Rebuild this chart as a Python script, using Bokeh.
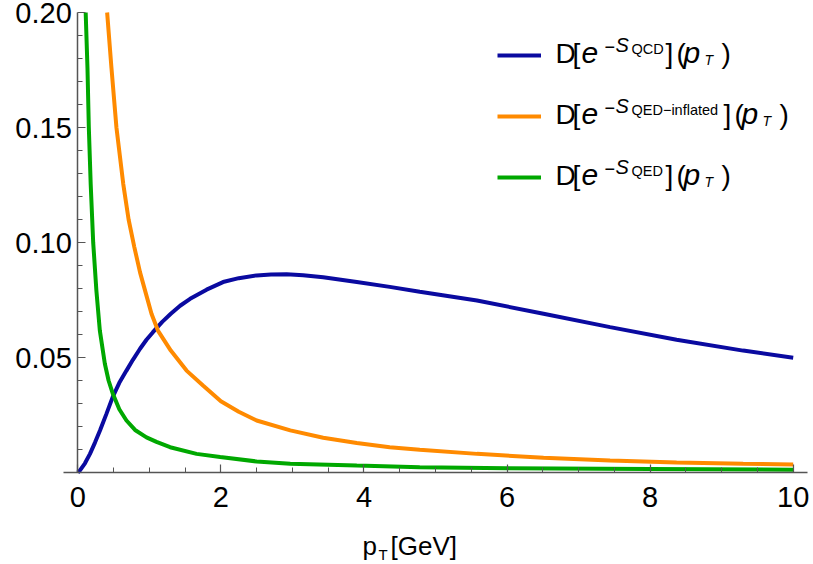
import numpy as np
from bokeh.plotting import figure
from bokeh.models import FixedTicker, NumeralTickFormatter, Label, Legend, LegendItem
from bokeh.embed import file_html
from bokeh.resources import INLINE

# ---- data ----
x_qcd = [0.0, 0.03, 0.1, 0.17, 0.24, 0.31, 0.4, 0.49, 0.58, 0.68, 0.77, 0.87, 0.96,
         1.05, 1.18, 1.3, 1.43, 1.57, 1.8, 2.03, 2.25, 2.5, 2.7, 2.92, 3.15, 3.43,
         3.9, 4.36, 4.78, 5.58, 6.51, 7.44, 8.37, 9.3, 10.0]
y_qcd = [0.0, 0.0009, 0.004, 0.0081, 0.013, 0.0183, 0.0255, 0.033, 0.039, 0.0443,
         0.049, 0.0538, 0.0577, 0.061, 0.0655, 0.069, 0.0725, 0.0755, 0.0795, 0.0828,
         0.0845, 0.0857, 0.0861, 0.0862, 0.0858, 0.0849, 0.0828, 0.0807, 0.0786,
         0.0748, 0.069, 0.0632, 0.0577, 0.053, 0.0499]

x_infl = [0.41, 0.47, 0.54, 0.635, 0.71, 0.79, 0.87, 0.95, 1.03, 1.12, 1.3, 1.52,
          1.75, 2.0, 2.25, 2.5, 2.97, 3.43, 3.9, 4.36, 4.78, 5.58, 6.51, 7.44, 8.37,
          9.3, 10.0]
y_infl = [0.2, 0.176, 0.150, 0.1255, 0.110, 0.098, 0.087, 0.078, 0.069, 0.0617,
          0.053, 0.0443, 0.0378, 0.031, 0.0264, 0.0226, 0.0183, 0.0151, 0.0128,
          0.011, 0.0099, 0.0081, 0.0064, 0.0052, 0.0043, 0.0038, 0.0035]

x_qed = [0.11, 0.135, 0.154, 0.18, 0.215, 0.26, 0.308, 0.378, 0.43, 0.49, 0.58, 0.68,
         0.8, 0.96, 1.1, 1.29, 1.66, 1.99, 2.5, 2.97, 3.9, 4.78, 6.0, 8.0, 10.0]
y_qed = [0.2, 0.176, 0.15, 0.1255, 0.100, 0.079, 0.0617, 0.0473, 0.040, 0.0342,
         0.0275, 0.0226, 0.0185, 0.0153, 0.0133, 0.011, 0.0081, 0.0067, 0.0048,
         0.0038, 0.003, 0.0023, 0.0019, 0.0015, 0.0012]

x_ticks = [0, 2, 4, 6, 8, 10]
x_minor = [0.5, 1, 1.5, 2.5, 3, 3.5, 4.5, 5, 5.5, 6.5, 7, 7.5, 8.5, 9, 9.5]
y_ticks = [0.05, 0.10, 0.15, 0.20]
y_minor = [0.01, 0.02, 0.03, 0.04, 0.06, 0.07, 0.08, 0.09, 0.11, 0.12, 0.13, 0.14,
           0.16, 0.17, 0.18, 0.19]

X_AX = (-0.2, 10.2)   # extent of the drawn x axis
Y_AX = (0.0, 0.2)     # extent of the drawn y axis

# ---- layout (pixels) ----
W, H = 813, 564
AL, AR, AT, AB = 63, 807, 12, 472   # where the axes' extents sit on the canvas
SX = (AR - AL) / (X_AX[1] - X_AX[0])
SY = (AB - AT) / (Y_AX[1] - Y_AX[0])
XR = (X_AX[0] - AL / SX, X_AX[1] + (W - AR) / SX)
YR = (Y_AX[0] - (H - AB) / SY, Y_AX[1] + AT / SY)

def dx(px):
    return XR[0] + px / SX

def dy(py):
    return YR[1] - py / SY

FONT = "Liberation Sans"
BLUE, ORANGE, GREEN = "#0a0aa0", "#ff8a00", "#00a800"
AXC = "#555555"

p = figure(width=W, height=H, x_range=XR, y_range=YR, output_backend="svg",
           toolbar_location=None, min_border=0)
p.outline_line_color = None
p.grid.visible = False
p.background_fill_color = "white"
p.border_fill_color = "white"

r1 = p.line(x_qcd, y_qcd, line_color=BLUE, line_width=4)
r2 = p.line(x_infl, y_infl, line_color=ORANGE, line_width=4)
r3 = p.line(x_qed, y_qed, line_color=GREEN, line_width=4)

for ax in (p.xaxis[0], p.yaxis[0]):
    ax.axis_line_color = AXC
    ax.axis_line_width = 1.5
    ax.major_tick_line_color = AXC
    ax.minor_tick_line_color = AXC
    ax.major_tick_line_width = 1.2
    ax.minor_tick_line_width = 1.0
    ax.major_tick_in = 8
    ax.major_tick_out = 0
    ax.minor_tick_in = 5
    ax.minor_tick_out = 0
    ax.major_label_text_font = FONT
    ax.major_label_text_font_size = "29px"
    ax.major_label_text_color = "black"

p.xaxis.ticker = FixedTicker(ticks=x_ticks, minor_ticks=x_minor)
p.xaxis.fixed_location = 0
p.xaxis.bounds = X_AX
p.xaxis.major_label_standoff = 14
p.yaxis.ticker = FixedTicker(ticks=y_ticks, minor_ticks=y_minor)
p.yaxis.formatter = NumeralTickFormatter(format="0.00")
p.yaxis.fixed_location = 0
p.yaxis.bounds = Y_AX
p.yaxis.major_label_standoff = 6

legend = Legend(items=[LegendItem(label=" ", renderers=[r1]),
                       LegendItem(label=" ", renderers=[r2]),
                       LegendItem(label=" ", renderers=[r3])],
                location=(497, H - 187), padding=0, spacing=41, margin=0,
                glyph_width=44, glyph_height=20, label_height=20, label_standoff=0,
                label_text_font_size="1px", border_line_color=None,
                background_fill_alpha=0)
p.add_layout(legend, "center")

K = 0.36  # empirical baseline correction (fraction of font size)

def put(t, px, py, sz, italic=False):
    p.add_layout(Label(x=dx(px), y=dy(py - K * sz), text=t, text_font=FONT,
                       text_font_size=f"{sz}px",
                       text_font_style="italic" if italic else "normal",
                       text_baseline="alphabetic", text_align="left",
                       text_color="black"))

# legend texts: subscript, baseline, x of "]"
rows = [("QCD", 63, 665), ("QED\u2212inflated", 124, 723), ("QED", 185, 665)]
for sub, base, xb in rows:
    put("D", 555, base, 28)
    put("[", 572, base, 28)
    put("e", 581, base, 30, True)
    put("\u2212", 604, base - 11, 18)
    put("S", 615, base - 11, 20, True)
    put(sub, 631, base - 9, 14.5)
    put("]", xb, base, 28)
    put("(", xb + 11, base, 28)
    put("p", xb + 18, base, 30, True)
    put("T", xb + 39, base + 2, 14, True)
    put(")", xb + 56, base, 28)

# x axis label p_T[GeV]
put("p", 362, 555, 26)
put("T", 378, 559, 15)
put("[GeV]", 390, 555, 26)

open("out.html", "w").write(file_html(p, INLINE))
